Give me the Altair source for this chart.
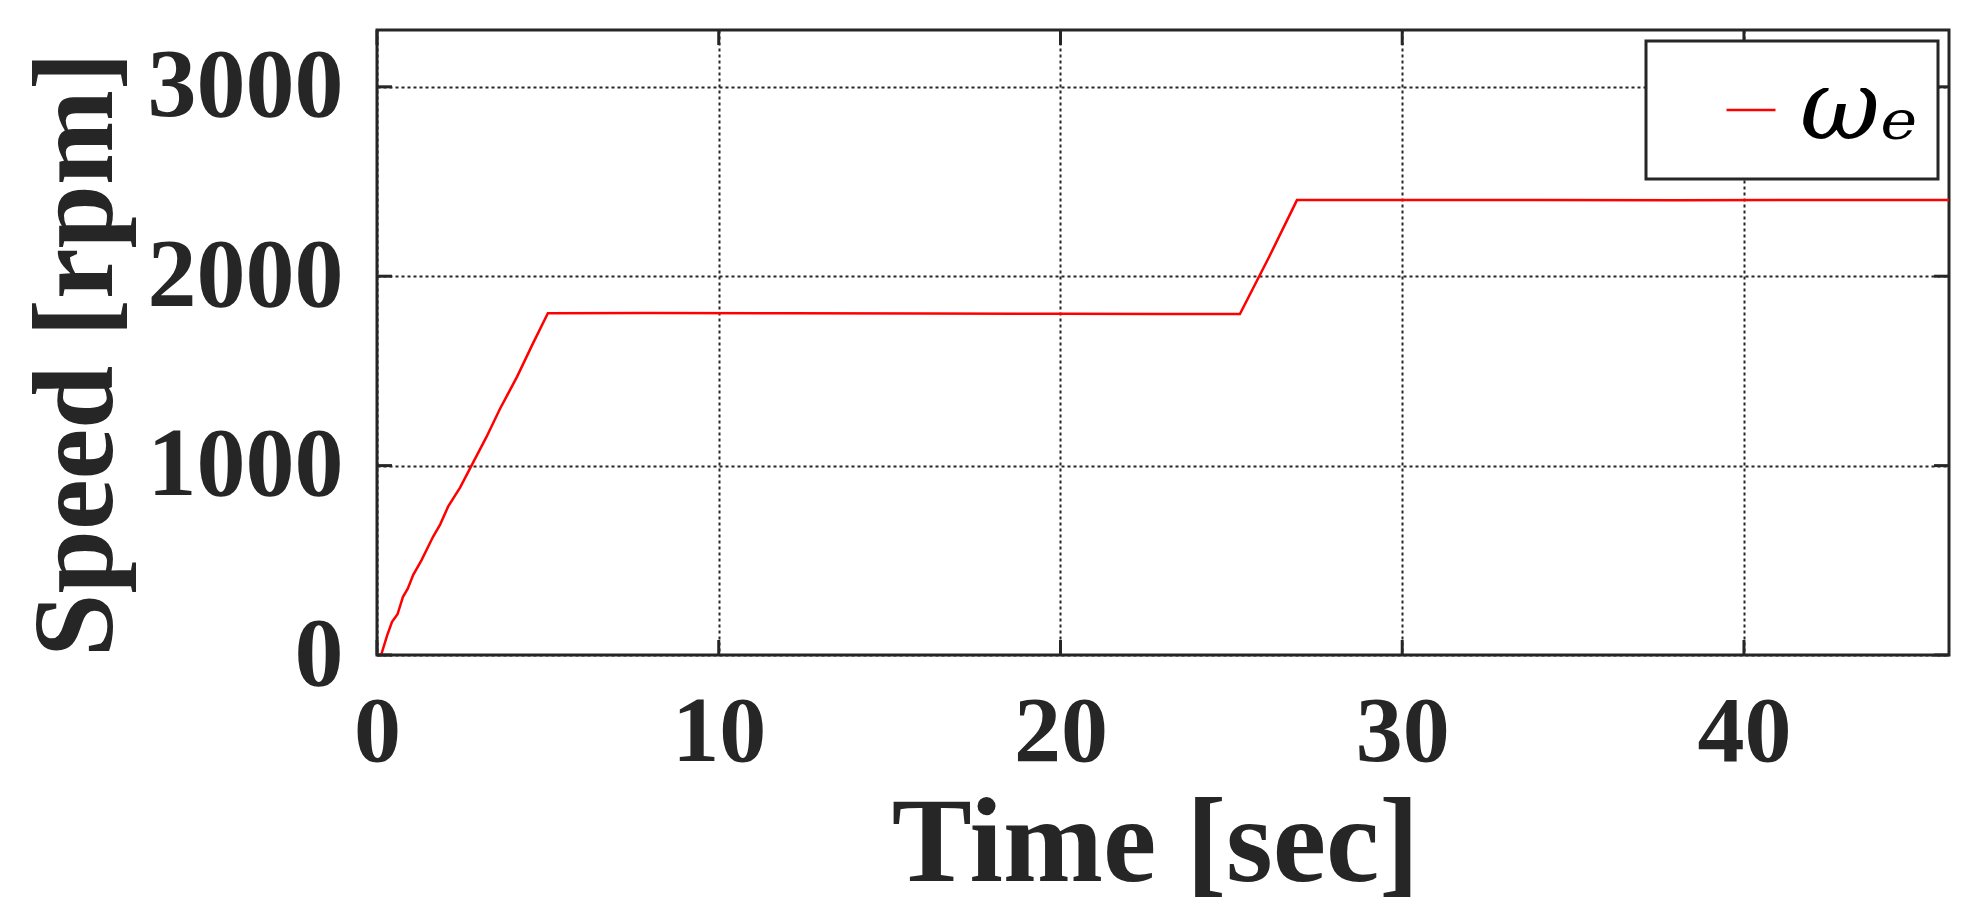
import pandas as pd
import altair as alt

# speed trace
time_s = [0, 0.12, 0.3, 0.44, 0.6, 0.76, 0.9, 1.06, 1.3, 1.64, 1.85, 2.08, 2.43,
          2.78, 3.2, 3.6, 4.1, 4.55, 5.0, 8, 12, 16, 20, 23, 25.25, 26.1, 26.92,
          30, 34, 38, 42, 46]
speed_rpm = [0, 0, 105, 175, 215, 307, 350, 423, 500, 624, 690, 783, 884,
             1005, 1150, 1300, 1470, 1640, 1805, 1806, 1804, 1803, 1802, 1801, 1800, 2100, 2402,
             2403, 2402, 2401, 2402, 2402]
series_name = "ωₑ"

x_ticks = [0, 10, 20, 30, 40]
y_ticks = [0, 1000, 2000, 3000]

W, H = 1572, 625
INK = "#262626"
FONT = "Liberation Serif"

df = pd.DataFrame({"time": time_s, "speed": speed_rpm, "series": series_name})
xt = pd.DataFrame({"time": x_ticks})
yt = pd.DataFrame({"speed": y_ticks})

x_enc = alt.X(
    "time:Q",
    title="Time [sec]",
    scale=alt.Scale(domain=[0, 46], nice=False, zero=False),
    axis=alt.Axis(values=x_ticks, format="d", labelPadding=31,
                  titleX=778, titleY=225, titleBaseline="alphabetic",
                  labelFontSize=94, titleFontSize=120),
)
y_enc = alt.Y(
    "speed:Q",
    title="Speed [rpm]",
    scale=alt.Scale(domain=[0, 3300], nice=False),
    axis=alt.Axis(values=y_ticks, format="d", labelPadding=34,
                  titleX=-266, titleY=324, titleBaseline="alphabetic",
                  labelFontSize=98, titleFontSize=114),
)

line = alt.Chart(df).mark_line(strokeWidth=2.5).encode(
    x=x_enc,
    y=y_enc,
    color=alt.Color(
        "series:N",
        scale=alt.Scale(domain=[series_name], range=["#ff0000"]),
        legend=alt.Legend(title=None, orient="top-right", offset=11),
    ),
)

tick_len = 15
bottom_ticks = alt.Chart(xt).mark_rule(color=INK, strokeWidth=3).encode(
    x=x_enc, y=alt.value(H), y2=alt.value(H - tick_len))
top_ticks = alt.Chart(xt).mark_rule(color=INK, strokeWidth=3).encode(
    x=x_enc, y=alt.value(0), y2=alt.value(tick_len))
left_ticks = alt.Chart(yt).mark_rule(color=INK, strokeWidth=3).encode(
    y=y_enc, x=alt.value(0), x2=alt.value(tick_len))
right_ticks = alt.Chart(yt).mark_rule(color=INK, strokeWidth=3).encode(
    y=y_enc, x=alt.value(W), x2=alt.value(W - tick_len))

chart = alt.layer(line, bottom_ticks, top_ticks, left_ticks, right_ticks).properties(
    width=W,
    height=H,
    autosize=alt.AutoSizeParams(type="none"),
    padding={"left": 369, "top": 22, "right": 5, "bottom": 255},
    background="white",
).configure_axis(
    labelFont=FONT,
    titleFont=FONT,
    labelFontWeight="bold",
    titleFontWeight="bold",
    labelColor=INK,
    titleColor=INK,
    labelLimit=0,
    labelFlush=False,
    ticks=False,
    domain=False,
    grid=True,
    gridColor=INK,
    gridDash=[3, 3],
    gridWidth=2,
    gridOpacity=1,
).configure_legend(
    strokeColor=INK,
    strokeWidth=3,
    fillColor="white",
    padding=20,
    symbolType="stroke",
    symbolSize=2400,
    symbolStrokeWidth=2.5,
    symbolOffset=36,
    labelFont="DejaVu Serif",
    labelFontStyle="italic",
    labelFontSize=98,
    labelColor="black",
    labelOffset=0,
).configure_view(
    stroke=INK,
    strokeWidth=3,
)

chart.save("out.html", embed_options={"renderer": "svg", "actions": False})
